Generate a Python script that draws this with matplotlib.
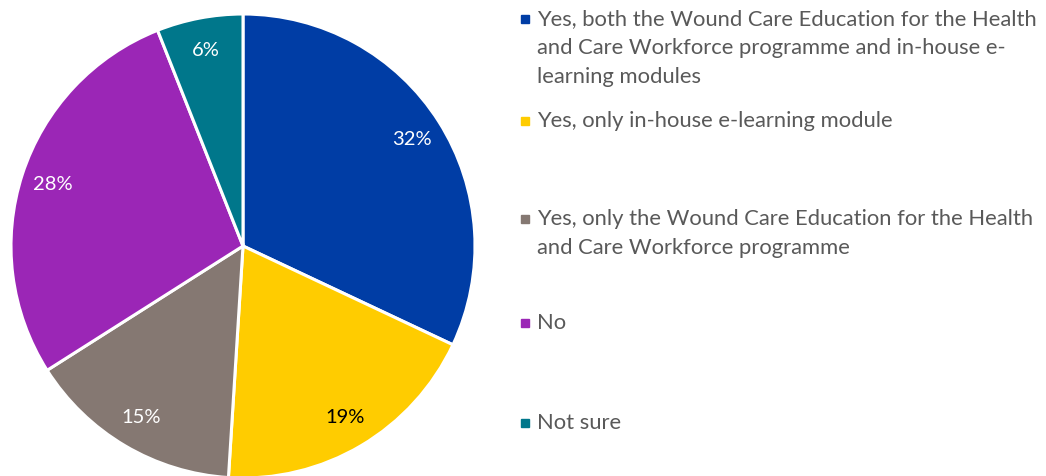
import matplotlib.pyplot as plt
from matplotlib.patches import Rectangle

# Respostas sobre formação em tratamento de feridas
labels = [
    "Yes, both the Wound Care Education for the Health\nand Care Workforce programme and in-house e-\nlearning modules",
    "Yes, only in-house e-learning module",
    "Yes, only the Wound Care Education for the Health\nand Care Workforce programme",
    "No",
    "Not sure",
]
shares = [32, 19, 15, 28, 6]
colors = ["#003DA5", "#FFCC00", "#857872", "#9B26B6", "#00778B"]
pct_colors = ["white", "black", "white", "white", "white"]

W, H = 1046, 476
fig = plt.figure(figsize=(W / 100, H / 100), dpi=100)
plt.rcParams['font.family'] = ['Lato', 'DejaVu Sans']

# eixo da pizza em pixels: centro (243, 246), raio 232
cx, cy, r = 243, 246, 232
ax = fig.add_axes([(cx - r) / W, (H - cy - r) / H, 2 * r / W, 2 * r / H])
wedges, texts, autotexts = ax.pie(
    shares, colors=colors, startangle=90, counterclock=False,
    autopct=lambda p: f"{p:.0f}%", pctdistance=0.86, radius=1,
    wedgeprops=dict(edgecolor="white", linewidth=2.2),
    textprops=dict(fontsize=14.5))
for t, c in zip(autotexts, pct_colors):
    t.set_color(c)
ax.set_xlim(-1, 1)
ax.set_ylim(-1, 1)
ax.set_aspect("equal")
ax.axis("off")

# legenda desenhada à mão, com espaçamento do Excel
entry_y = [19, 121, 219, 323, 423]
line_h = 29
for lab, col, y0 in zip(labels, colors, entry_y):
    fig.patches.append(Rectangle(((521) / W, (H - y0 - 4) / H), 8 / W, 8 / H,
                                 transform=fig.transFigure, color=col))
    for i, line in enumerate(lab.split("\n")):
        fig.text(537 / W, (H - y0 - i * line_h) / H, line, fontsize=15.8,
                 color="#595959", va="center", ha="left")

fig.savefig("out.png", dpi=100)
